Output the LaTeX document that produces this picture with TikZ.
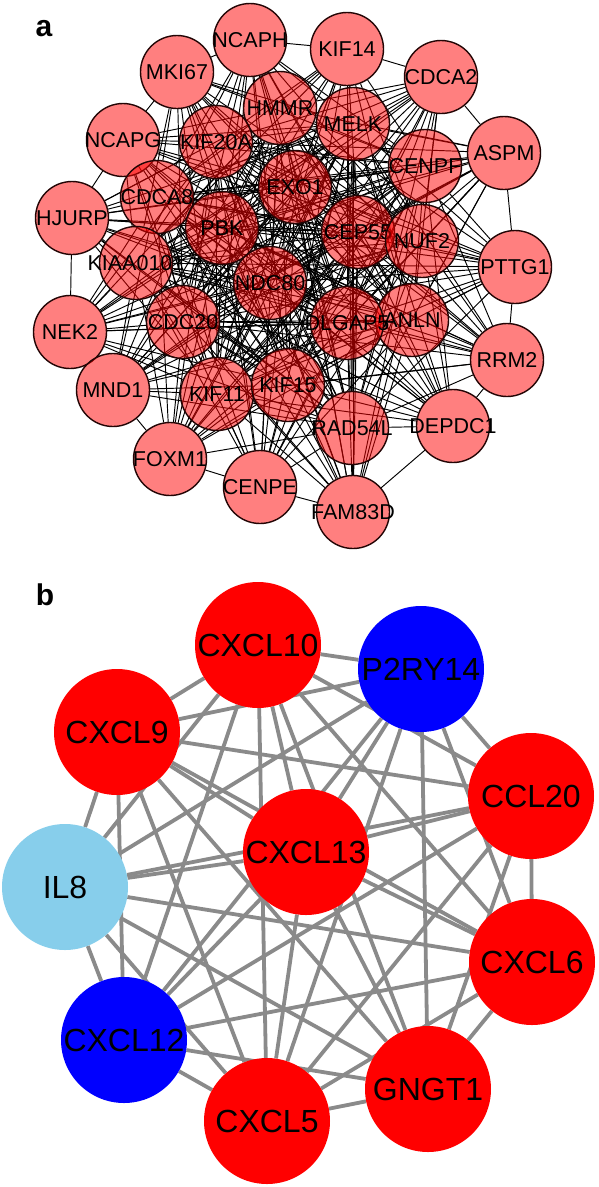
\documentclass[tikz,border=0pt]{standalone}
\usepackage{fontspec}
\setmainfont{Liberation Sans}
\usepackage{tikz}
\pgfdeclarelayer{edges}
\pgfsetlayers{edges,main}

\definecolor{rim}{RGB}{35,5,5}
\definecolor{netgray}{RGB}{138,138,138}
\definecolor{skyish}{RGB}{135,206,235}

\begin{document}
\begin{tikzpicture}[x=1pt,y=-1pt,inner sep=0pt,
										link/.style={draw=black,line width=0.95pt},
										thick link/.style={draw=netgray,line width=3.8pt}]
	\tikzstyle{gene}=[circle,minimum size=73pt,fill=red,fill opacity=0.5,text opacity=1,
										draw=rim,line width=1.4pt,font=\fontsize{21.5}{21.5}\selectfont]
	\tikzstyle{hub}=[circle,minimum size=126pt,text=black,font=\fontsize{32}{32}\selectfont]
	\tikzstyle{tag}=[font=\bfseries\fontsize{30}{30}\selectfont]

	\useasboundingbox (0,0) rectangle (598,1187);

	\node[tag] (tagA) at (44,29) {a};
	\node[tag] (tagB) at (45,595) {b};

	\foreach \n/\x/\y in {NCAPH/250/40, KIF14/347/49, CDCA2/441/77, MKI67/177/72,
				HMMR/280/108, MELK/353/124, NCAPG/123/140, KIF20A/216/142, ASPM/504/153,
				CENPF/425/166, EXO1/295/187, CDCA8/157/197, HJURP/72/218, PBK/222/228,
				CEP55/358/232, NUF2/422/241, PTTG1/515/267, KIAA0101/136/263,
				NDC80/270/283, ANLN/412/320, DLGAP5/347/323, CDC20/183/322, NEK2/70/332,
				RRM2/507/360, KIF11/217/394, KIF15/288/385, MND1/113/390, DEPDC1/453/426,
				RAD54L/352/428, FOXM1/170/459, CENPE/260/487, FAM83D/353/512}
		\node[gene] (\n) at (\x,\y) {\makebox[0pt]{\n}};

	\def\coregenes{HMMR,KIF20A,CDCA8,EXO1,PBK,KIAA0101,NDC80,MELK,CENPF,CEP55,NUF2,
				CDC20,KIF11,DLGAP5,ANLN,KIF15,RAD54L}
	\def\rimgenes{NCAPH,KIF14,CDCA2,ASPM,PTTG1,RRM2,DEPDC1,FAM83D,CENPE,FOXM1,
				MND1,NEK2,HJURP,NCAPG,MKI67}

	\begin{pgfonlayer}{edges}
		\foreach \u [count=\i] in \coregenes
			\foreach \v [count=\j] in \coregenes
				{\ifnum\i<\j \path (\u) edge[link] (\v); \fi}
		\foreach \u in \rimgenes
			\foreach \v in \coregenes
				{\path (\u) edge[link] (\v);}
		\foreach \u/\v in {NCAPH/KIF14, KIF14/CDCA2, CDCA2/ASPM, ASPM/PTTG1, PTTG1/RRM2,
					RRM2/DEPDC1, DEPDC1/FAM83D, FAM83D/CENPE, CENPE/FOXM1, FOXM1/MND1,
					MND1/NEK2, NEK2/HJURP, HJURP/NCAPG, NCAPG/MKI67, MKI67/NCAPH}
			\path (\u) edge[link] (\v);
	\end{pgfonlayer}

	\foreach \n/\c/\x/\y in {CXCL10/red/258/645, P2RY14/blue/421/669, CXCL9/red/117/732,
				CCL20/red/531/796, IL8/skyish/65/887, CXCL13/red/306/852, CXCL6/red/532/962,
				CXCL12/blue/124/1040, GNGT1/red/428/1089, CXCL5/red/267/1121}
		\node[hub,fill=\c] (\n) at (\x,\y) {\makebox[0pt]{\n}};

	\begin{pgfonlayer}{edges}
		\foreach \u [count=\i] in {CXCL10,P2RY14,CXCL9,CCL20,IL8,CXCL13,CXCL6,CXCL12,GNGT1,CXCL5}
			\foreach \v [count=\j] in {CXCL10,P2RY14,CXCL9,CCL20,IL8,CXCL13,CXCL6,CXCL12,GNGT1,CXCL5}
				{\ifnum\i<\j \path (\u) edge[thick link] (\v); \fi}
	\end{pgfonlayer}
\end{tikzpicture}
\end{document}
